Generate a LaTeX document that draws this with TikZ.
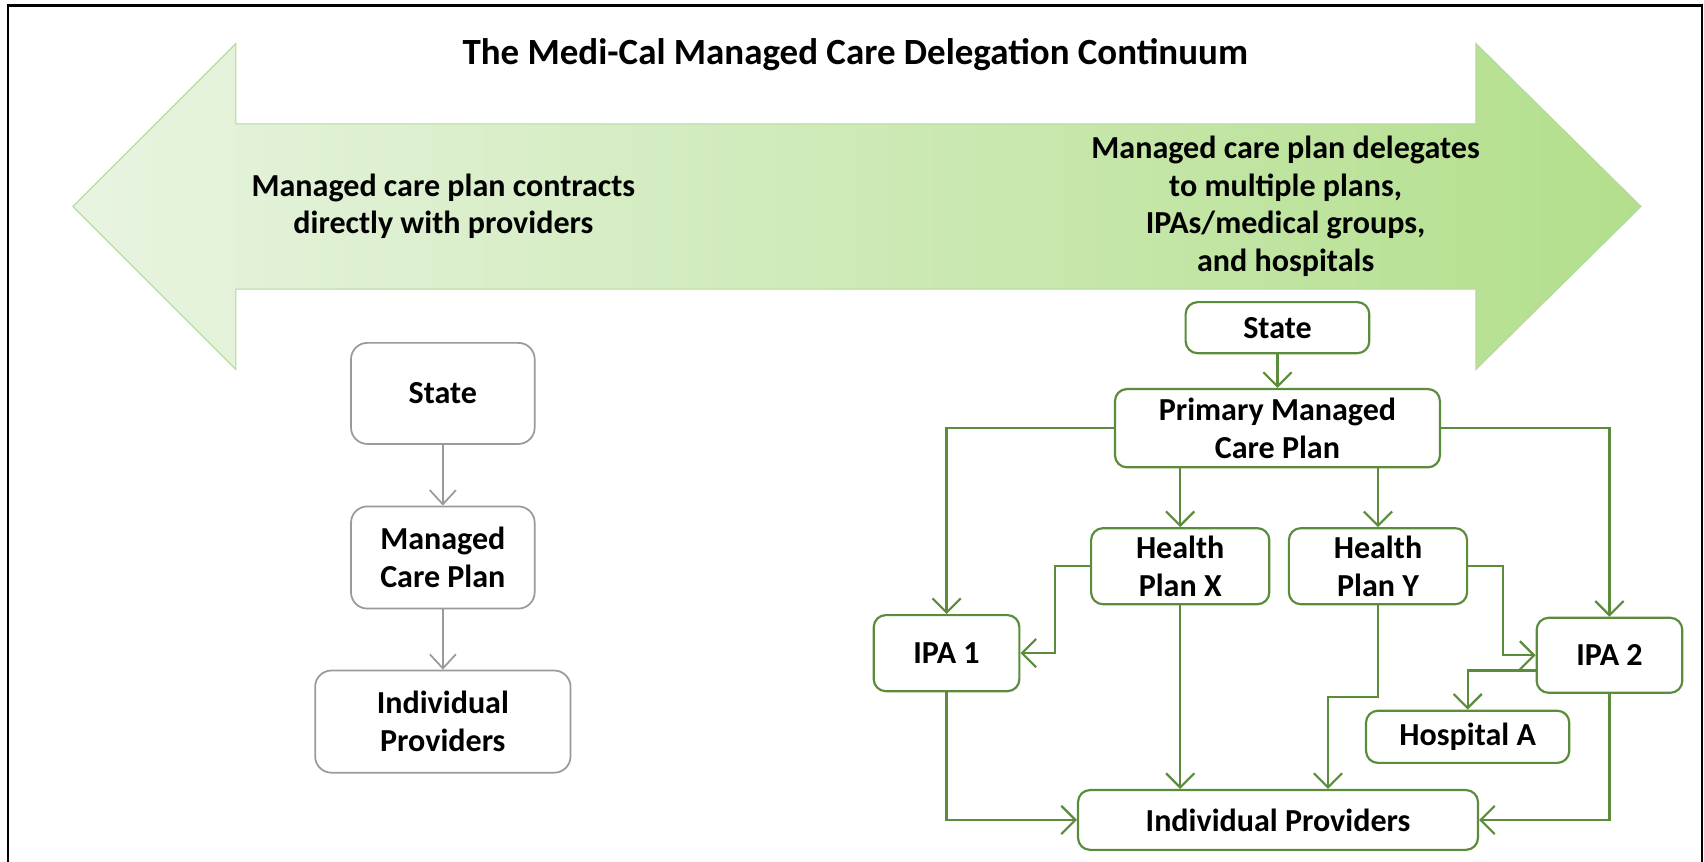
\documentclass[tikz,border=0pt]{standalone}
\usepackage{fontspec}
\setmainfont{Carlito}
\usetikzlibrary{arrows.meta}
\definecolor{gline}{HTML}{5B8C3C}
\definecolor{gbox}{HTML}{9A9A9A}
\definecolor{aleft}{HTML}{E8F4E1}
\definecolor{aright}{HTML}{B3DF8C}
\definecolor{aedge}{HTML}{B4D99C}
\tikzset{
  txt/.style={font=\bfseries\fontsize{29.5}{34.5}\selectfont, align=center, inner sep=0pt},
  gnode/.style={txt, draw=gline, line width=2pt, rounded corners=11pt},
  lnode/.style={txt, draw=gbox, line width=1.6pt, rounded corners=15pt},
  garrow/.style={draw=gline, line width=2pt, -{Straight Barb[length=13pt,width=26pt,line width=2pt]}},
  larrow/.style={draw=gbox, line width=1.6pt, -{Straight Barb[length=13pt,width=24pt,line width=1.6pt]}},
}
\begin{document}
\begin{tikzpicture}[x=1pt,y=-1pt]
\useasboundingbox (0,0) rectangle (1568,793);
\fill[white] (0,0) rectangle (1568,793);
% frame
\draw[black, line width=2pt] (7,800) -- (7,5) -- (1566,5) -- (1566,800);
% big double arrow
\path[left color=aleft, right color=aright, draw=aedge, line width=1pt]
  (67,190) -- (217,40) -- (217,114) -- (1358,114) -- (1358,40) -- (1510,190)
  -- (1358,340) -- (1358,266) -- (217,266) -- (217,340) -- cycle;
\node[txt, font=\bfseries\fontsize{34}{40}\selectfont] (title) at (787,50) {The Medi-Cal Managed Care Delegation Continuum};
\node[txt] (ltext) at (408,190) {Managed care plan contracts\\directly with providers};
\node[txt] (rtext) at (1183,190) {Managed care plan delegates\\to multiple plans,\\IPAs/medical groups,\\and hospitals};
% left chain
\node[lnode, minimum width=169pt, minimum height=93pt] (lstate) at (407.5,362) {State};
\node[lnode, minimum width=169pt, minimum height=94pt] (lmcp) at (407.5,513) {Managed\\Care Plan};
\node[lnode, minimum width=235pt, minimum height=94pt] (lip) at (407.5,664) {Individual\\Providers};
\draw[larrow] (lstate) -- (lmcp);
\draw[larrow] (lmcp) -- (lip);
% right structure
\node[gnode, minimum width=169pt, minimum height=47pt] (rstate) at (1175.5,301.5) {State};
\node[gnode, minimum width=299pt, minimum height=72pt] (pmcp) at (1175.5,394) {Primary Managed\\Care Plan};
\node[gnode, minimum width=164pt, minimum height=70pt] (hpx) at (1086,521) {Health\\Plan X};
\node[gnode, minimum width=164pt, minimum height=70pt] (hpy) at (1268,521) {Health\\Plan Y};
\node[gnode, minimum width=134pt, minimum height=70pt] (ipa1) at (871,601) {IPA 1};
\node[gnode, minimum width=134pt, minimum height=69pt] (ipa2) at (1481,603) {IPA 2};
\node[gnode, minimum width=187pt, minimum height=48pt] (hosp) at (1350.5,678) {Hospital A};
\node[gnode, minimum width=368pt, minimum height=55pt] (ip) at (1176,754.5) {Individual Providers};
\coordinate (ybend) at (1222,641);
\draw[garrow] (rstate) -- (pmcp);
\draw[garrow] (pmcp.west) -| (ipa1.north);
\draw[garrow] (pmcp.east) -| (ipa2.north);
\draw[garrow] (pmcp.south -| hpx.north) -- (hpx.north);
\draw[garrow] (pmcp.south -| hpy.north) -- (hpy.north);
\draw[garrow] (hpx.west) -- ++(-32,0) |- (ipa1.east);
\draw[garrow] (hpx.south) -- (hpx.south |- ip.north);
\draw[garrow] (hpy.south) |- (ybend) -- (ybend |- ip.north);
\draw[garrow] (hpy.east) -- ++(32,0) |- (ipa2.west);
\draw[garrow] ([yshift=-14pt]ipa2.west) -| (hosp.north);
\draw[garrow] (ipa1.south) |- (ip.west);
\draw[garrow] (ipa2.south) |- (ip.east);
\end{tikzpicture}
\end{document}
